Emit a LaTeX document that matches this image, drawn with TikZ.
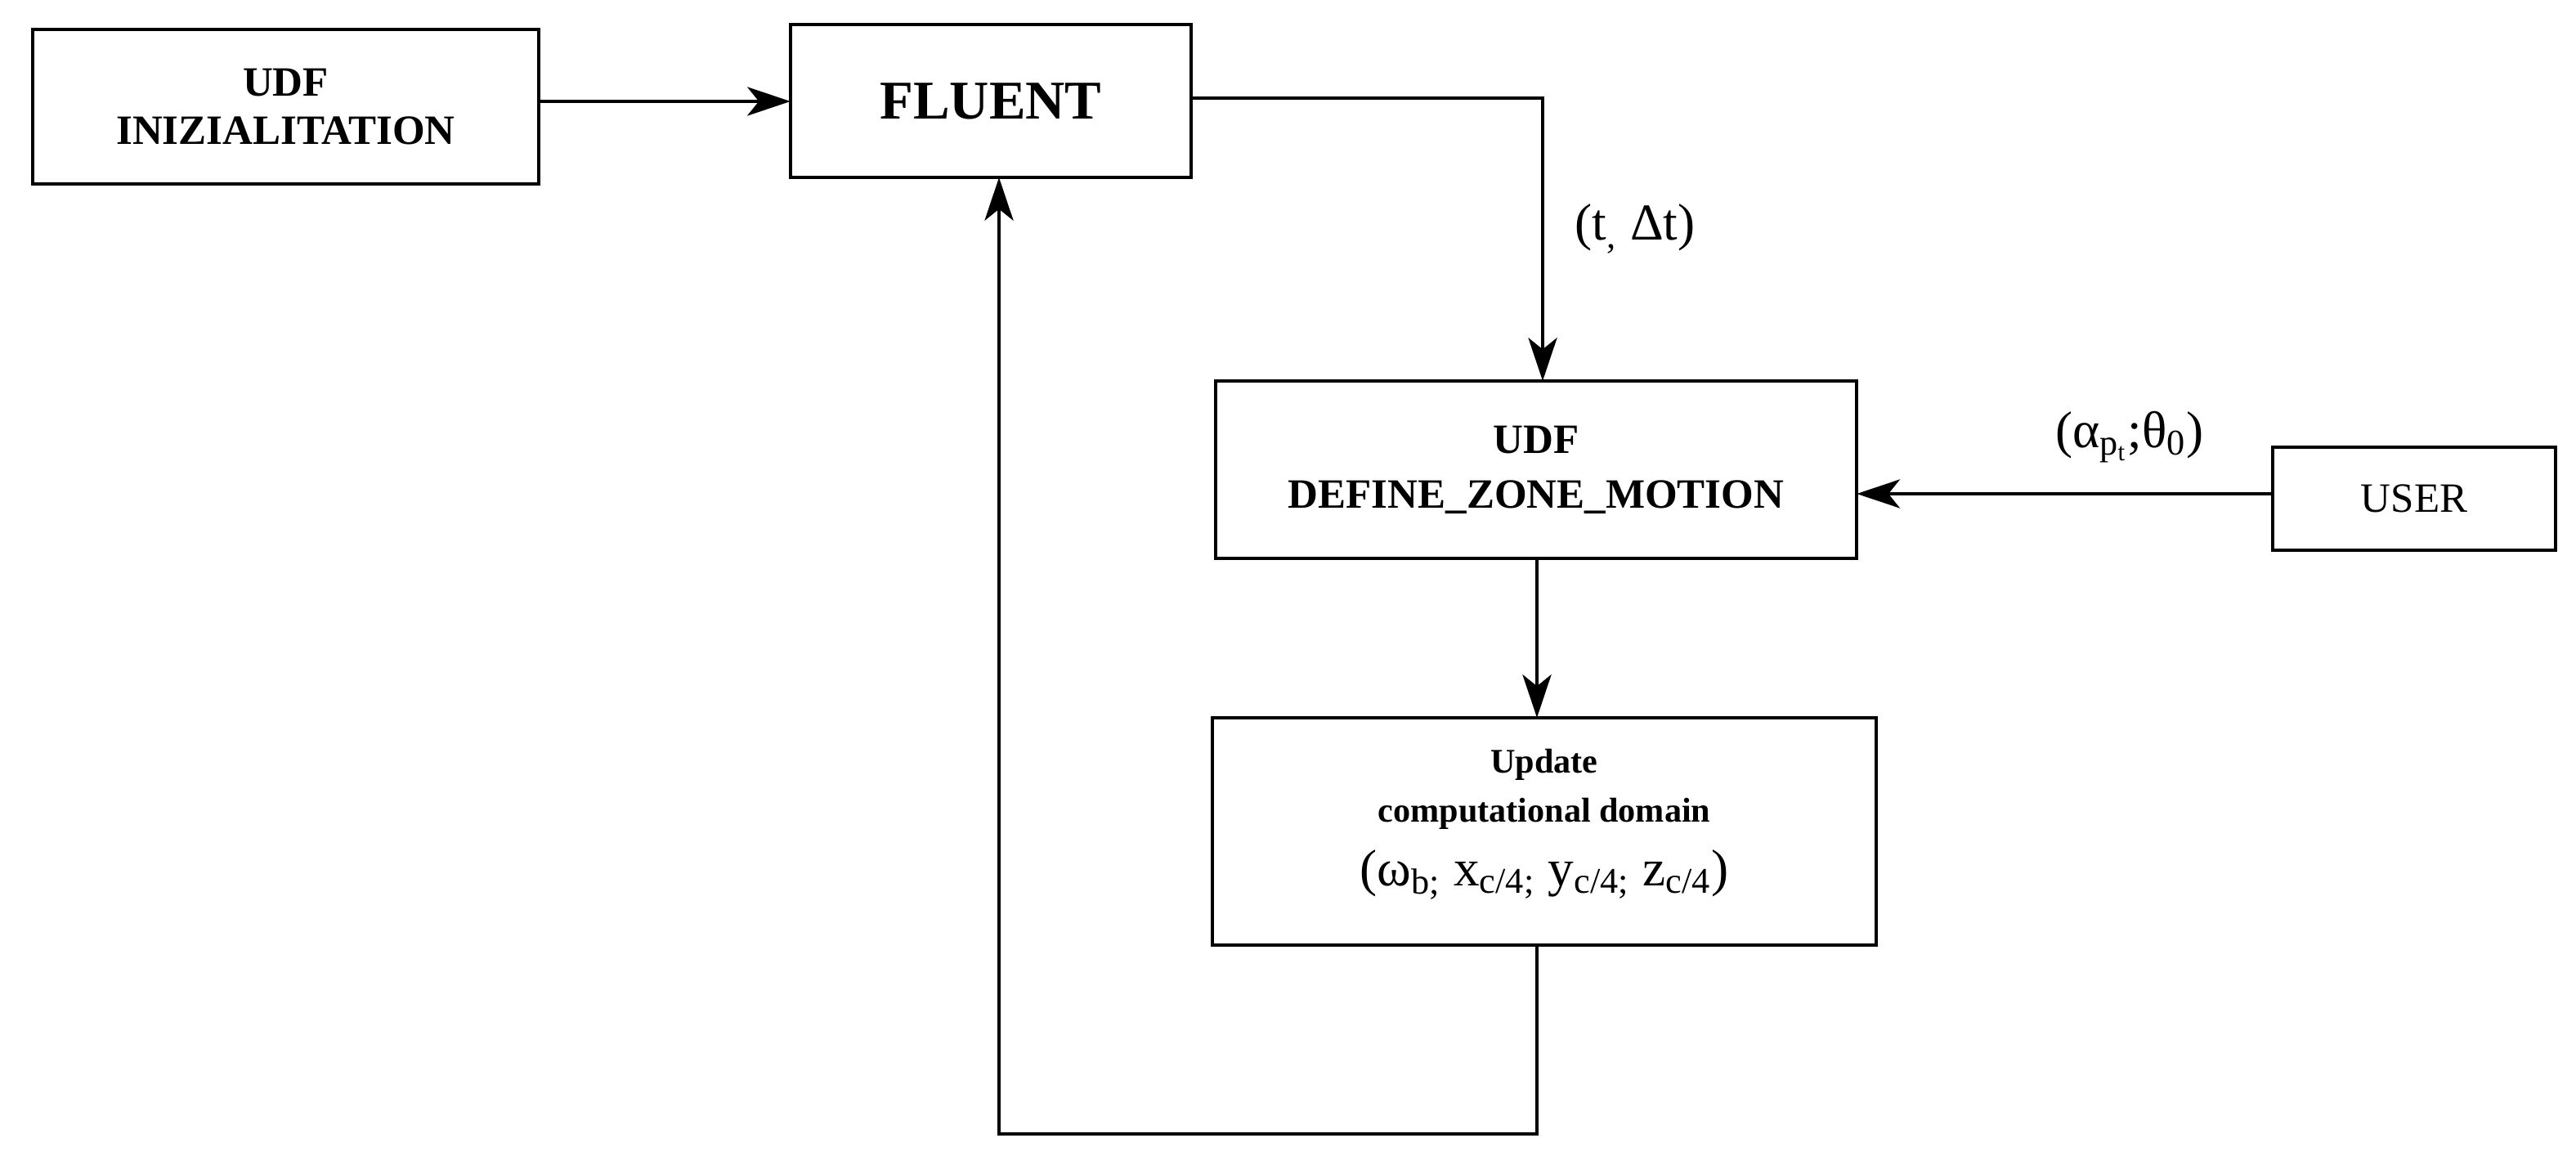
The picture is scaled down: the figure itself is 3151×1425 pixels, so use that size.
\documentclass[tikz,border=0pt]{standalone}
\usepackage{fontspec}
\setmainfont{Liberation Serif}
\usetikzlibrary{arrows.meta}
\begin{document}
\begin{tikzpicture}[x=0.01cm,y=-0.01cm,
  box/.style={draw,line width=1.2pt,inner sep=0pt,align=center,outer sep=0pt},
  arr/.style={line width=1.2pt,-{Stealth[length=15pt,width=10pt,inset=4pt]}}]
\useasboundingbox (0,0) rectangle (3151,1425);
\node[box,minimum width=6.19cm,minimum height=1.89cm,font=\bfseries\fontsize{14.5}{17}\selectfont] (init) at (349.5,130.5) {UDF\\INIZIALITATION};
\node[box,minimum width=4.9cm,minimum height=1.87cm,font=\bfseries\fontsize{19}{22}\selectfont] (fl) at (1212,123.5) {FLUENT};
\node[box,minimum width=7.84cm,minimum height=2.17cm,font=\bfseries\fontsize{14.5}{19}\selectfont] (dz) at (1879,574.5) {UDF\\DEFINE\_ZONE\_MOTION};
\node[box,minimum width=3.46cm,minimum height=1.26cm,font=\fontsize{14.5}{17}\selectfont] (us) at (2953,610) {USER};
\node[box,minimum width=8.12cm,minimum height=2.78cm] (up) at (1889,1017) {};
\node[font=\bfseries\fontsize{12}{17}\selectfont,align=center] (upt) at (1889,965) {Update\\computational domain};
\node[font=\fontsize{18}{20}\selectfont] (upm) at (1889,1070) {(ω\textsubscript{b;} x\textsubscript{c/4;} y\textsubscript{c/4;} z\textsubscript{c/4})};
\coordinate (a1) at (1887,120);
\coordinate (b1) at (1222,1387);
\coordinate (b2) at (1880,1387);
\draw[arr] (init.east |- 0,124) -- (fl.west |- 0,124);
\draw[arr] (fl.east |- a1) -- (a1) -- (a1 |- dz.north);
\node[font=\fontsize{18}{20}\selectfont] (tl) at (2000,280) {(t\textsubscript{,} Δt)};
\draw[arr] (us.west |- 0,604) -- (dz.east |- 0,604);
\node[font=\fontsize{18}{20}\selectfont] (al) at (2605,535) {(α\textsubscript{p\textsubscript{t}};θ\textsubscript{0})};
\draw[arr] (dz.south -| b2) -- (up.north -| b2);
\draw[arr] (up.south -| b2) -- (b2) -- (b1) -- (b1 |- fl.south);
\end{tikzpicture}
\end{document}
